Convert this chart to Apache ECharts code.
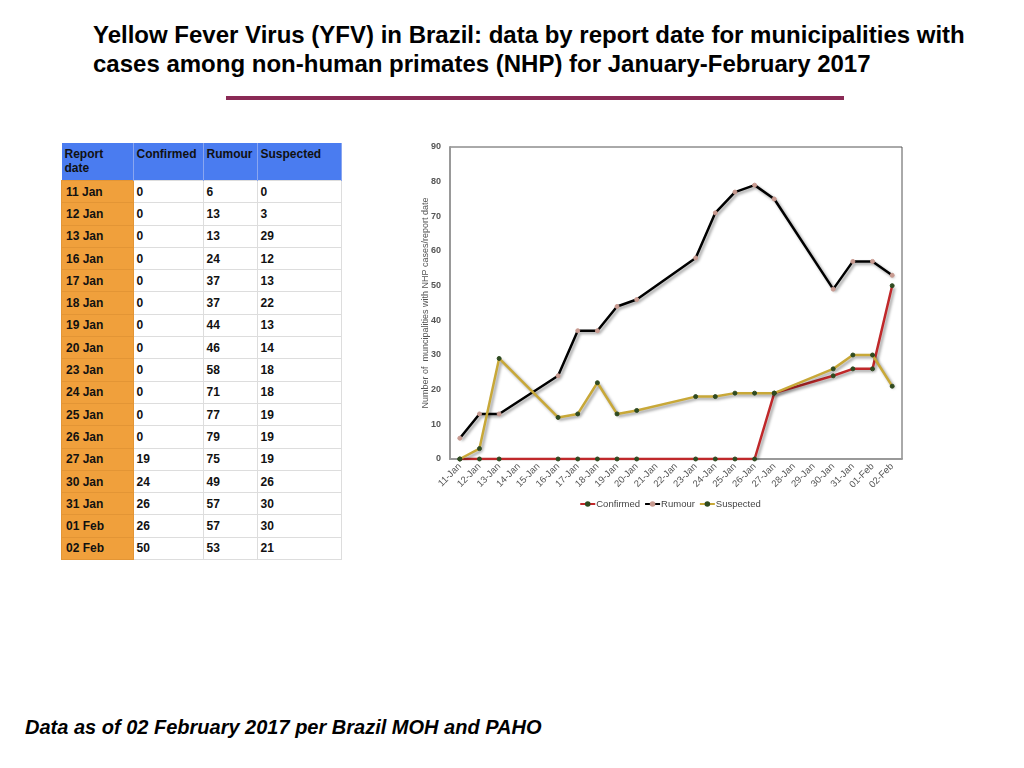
<!DOCTYPE html>
<html>
<head>
<meta charset="utf-8">
<script src="https://cdn.jsdelivr.net/npm/echarts@6/dist/echarts.min.js"></script>
<style>
  body { margin:0; width:1024px; height:768px; background:#fff; position:relative; overflow:hidden;
         font-family:"Liberation Sans", Arial, sans-serif; }
  #title { position:absolute; left:93px; top:20px; font-size:24px; font-weight:bold; line-height:29px; color:#000; }
  #rule { position:absolute; left:226px; top:96px; width:618px; height:4px; background:#8a2a55; }
  #tbl { position:absolute; left:61px; top:143px; border-collapse:collapse; font-size:12px; font-weight:bold; color:#111; }
  #tbl th { background:#4a7cf0; text-align:left; vertical-align:top; padding:4px 3px; height:29px; border-right:1px solid #8aa6f0; }
  #tbl td { height:21.3px; padding:0 3px; border:1px solid #ddd; }
  #tbl td.d { background:#f0a03c; border-color:#e39535; padding-left:4px; }
  #foot { position:absolute; left:25px; top:716px; font-size:20px; font-weight:bold; font-style:italic; }
  #main { position:absolute; left:400px; top:130px; width:540px; height:400px; }
</style>
</head>
<body>
<div id="title">Yellow Fever Virus (YFV) in Brazil: data by report date for municipalities with<br>cases among non-human primates (NHP) for January-February 2017</div>
<div id="rule"></div>
<table id="tbl"></table>
<div id="main"></div>
<div id="foot">Data as of 02 February 2017 per Brazil MOH and PAHO</div>
<script>
	// 表格数据
	var reportDates = ['11 Jan','12 Jan','13 Jan','16 Jan','17 Jan','18 Jan','19 Jan','20 Jan','23 Jan','24 Jan','25 Jan','26 Jan','27 Jan','30 Jan','31 Jan','01 Feb','02 Feb'];
	var confirmed = [0,0,0,0,0,0,0,0,0,0,0,0,19,24,26,26,50];
	var rumour    = [6,13,13,24,37,37,44,46,58,71,77,79,75,49,57,57,53];
	var suspected = [0,3,29,12,13,22,13,14,18,18,19,19,19,26,30,30,21];
	// x轴刻度
	var axisDates = ['11-Jan','12-Jan','13-Jan','14-Jan','15-Jan','16-Jan','17-Jan','18-Jan','19-Jan','20-Jan','21-Jan','22-Jan','23-Jan','24-Jan','25-Jan','26-Jan','27-Jan','28-Jan','29-Jan','30-Jan','31-Jan','01-Feb','02-Feb'];
	var headers = ['Report<br>date','Confirmed','Rumour','Suspected'];

	// 生成表格
	var html = '<tr>';
	var widths = [65,63,47,77];
	for (var h = 0; h < headers.length; h++) {
		html += '<th style="width:' + widths[h] + 'px">' + headers[h] + '</th>';
	}
	html += '</tr>';
	for (var i = 0; i < reportDates.length; i++) {
		html += '<tr><td class="d">' + reportDates[i] + '</td><td>' + confirmed[i] + '</td><td>' + rumour[i] + '</td><td>' + suspected[i] + '</td></tr>';
	}
	document.getElementById('tbl').innerHTML = html;

	function pairs(vals){
		var out = [];
		for (var i = 0; i < reportDates.length; i++) {
			out.push([reportDates[i].replace(' ', '-'), vals[i]]);
		}
		return out;
	}

	var shadow = { shadowColor:'rgba(0,0,0,0.4)', shadowBlur:3, shadowOffsetX:2, shadowOffsetY:2 };
	function line(name, vals, color, dot){
		return {
			name: name,
			type: 'line',
			data: pairs(vals),
			symbol: 'circle',
			symbolSize: 4,
			color: color,
			lineStyle: Object.assign({ color: color, width: 2.5 }, shadow),
			itemStyle: { color: dot, borderColor: dot }
		};
	}

	var myChart = echarts.init(document.getElementById('main'));
	var option = {
		animation: false,
		textStyle: { fontFamily: 'Liberation Sans, Arial, sans-serif' },
		grid: { left: 50, top: 17, width: 452, height: 312, show: true, borderColor: '#555', borderWidth: 1 },
		legend: {
			top: 364, left: 'center',
			itemWidth: 15, itemHeight: 7, itemGap: 4,
			textStyle: { fontSize: 9.5, color: '#444', padding: [0, 0, 0, -4] },
			data: ['Confirmed','Rumour','Suspected']
		},
		xAxis: {
			type: 'category',
			boundaryGap: true,
			data: axisDates,
			axisLine: { lineStyle: { color: '#999', width: 2 } },
			axisTick: { show: false },
			axisLabel: { rotate: 45, fontSize: 9.5, color: '#555', interval: 0, margin: 6 }
		},
		yAxis: {
			type: 'value',
			min: 0, max: 90, interval: 10,
			name: 'Number of  muncipalities with NHP cases/report date',
			nameLocation: 'middle',
			nameGap: 20,
			nameMoveOverlap: false,
			nameTextStyle: { fontSize: 9, color: '#555' },
			axisLine: { show: true, lineStyle: { color: '#999', width: 2 } },
			axisTick: { show: false },
			splitLine: { show: false },
			axisLabel: { fontSize: 9, color: '#555', fontWeight: 'bold', margin: 9 }
		},
		series: [
			line('Confirmed', confirmed, '#c0282a', '#2f4a20'),
			line('Rumour', rumour, '#000000', '#c89a90'),
			line('Suspected', suspected, '#c8a838', '#2f4a20')
		]
	};
	myChart.setOption(option);
</script>
</body>
</html>
